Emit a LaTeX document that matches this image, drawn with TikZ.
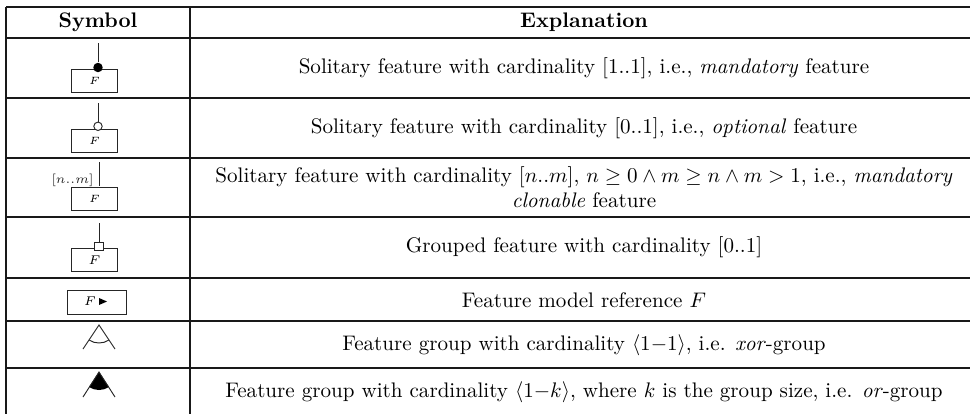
\documentclass[tikz,border=0pt]{standalone}
\usetikzlibrary{calc}
\begin{document}
\begin{tikzpicture}[x=0.4745pt, y=-0.4745pt,
  rule/.style={line width=0.5pt, draw=black!90},
  stem/.style={line width=0.45pt, draw=black!85},
  fbox/.style={draw=black!85, line width=0.45pt, inner sep=0pt,
    minimum width=21.4pt, minimum height=10.9pt},
  smallF/.style={font=\fontsize{4.4pt}{5pt}\selectfont},
  midF/.style={font=\fontsize{5.6pt}{6pt}\selectfont},
  expl/.style={font=\normalsize, align=center, inner sep=0pt},
  head/.style={font=\normalsize\bfseries, inner sep=0pt}]
\useasboundingbox (0,0) rectangle (970,413);

% table rules
\foreach \yy in {7,38,98,158,217,278,321,368}
  \draw[rule] (6,\yy) -- (972,\yy);
\draw[rule] (6,7) -- (6,415);
\draw[rule] (190,7) -- (190,415);

% header
\node[head] (hs) at (98,22.5) {Symbol};
\node[head] (he) at (584,22.5) {Explanation};

% row 1: mandatory feature
\coordinate (t1) at (98,43);
\node[fbox, smallF] (f1) at (94.5,80.5) {$F$};
\node[circle, fill=black, inner sep=0pt, minimum size=4.5pt] (c1) at (98,67.5) {};
\draw[stem] (t1) -- (c1);
\node[expl] (e1) at (584,68) {Solitary feature with cardinality [1..1], i.e., \emph{mandatory} feature};

% row 2: optional feature
\coordinate (t2) at (98,103);
\node[fbox, smallF] (f2) at (94.5,140.5) {$F$};
\node[circle, draw=black!85, fill=white, line width=0.45pt, inner sep=0pt, minimum size=4pt] (c2) at (98,126.3) {};
\draw[stem] (t2) -- (c2);
\node[expl] (e2) at (584,128) {Solitary feature with cardinality [0..1], i.e., \emph{optional} feature};

% row 3: clonable feature
\coordinate (t3) at (99,162);
\coordinate (b3) at (99,186);
\node[fbox, smallF] (f3) at (94.5,199) {$F$};
\draw[stem] (t3) -- (b3);
\node[font=\fontsize{5.8pt}{6pt}\selectfont, anchor=east, inner sep=0pt, text=black!85] (card3) at (94,180.5) {$[n..m]$};
\node[expl] (e3) at (584,187.5) {Solitary feature with cardinality $[n..m]$, $n \geq 0 \wedge m \geq n \wedge m > 1$, i.e., \emph{mandatory}\\ \emph{clonable} feature};

% row 4: grouped feature
\coordinate (t4) at (99,223);
\node[fbox, midF] (f4) at (94.5,260) {$F$};
\node[draw=black!85, fill=white, line width=0.45pt, inner sep=0pt, minimum size=4pt] (s4) at (99,246.5) {};
\draw[stem] (t4) -- (s4);
\node[expl] (e4) at (584,247.5) {Grouped feature with cardinality [0..1]};

% row 5: feature model reference
\node[fbox, minimum width=28pt, minimum height=11.4pt] (f5) at (96.5,302) {};
\node[midF, inner sep=0pt] (F5) at (90,301.5) {$F$};
\fill[black] (99,298) -- (107,301.5) -- (99,305) -- cycle;
\node[expl] (e5) at (584,300) {Feature model reference $F$};

% row 6: xor-group
\coordinate (a6) at (99,325);
\coordinate (l6) at (83,349);
\coordinate (r6) at (115,349);
\draw[stem] (l6) -- (a6) -- (r6);
\draw[stem] ($(a6)+(123.7:18)$) arc[start angle=123.7, end angle=56.3, radius=18];
\node[expl] (e6) at (584,345) {Feature group with cardinality $\langle 1{-}1\rangle$, i.e. \emph{xor}-group};

% row 7: or-group
\coordinate (a7) at (99,372);
\coordinate (l7) at (83,397);
\coordinate (r7) at (115,397);
\fill[black] (a7) -- ($(a7)+(123.7:18)$) arc[start angle=123.7, end angle=56.3, radius=18] -- cycle;
\draw[stem] (l7) -- (a7) -- (r7);
\node[expl] (e7) at (584,392) {Feature group with cardinality $\langle 1{-}k\rangle$, where $k$ is the group size, i.e. \emph{or}-group};
\end{tikzpicture}
\end{document}
